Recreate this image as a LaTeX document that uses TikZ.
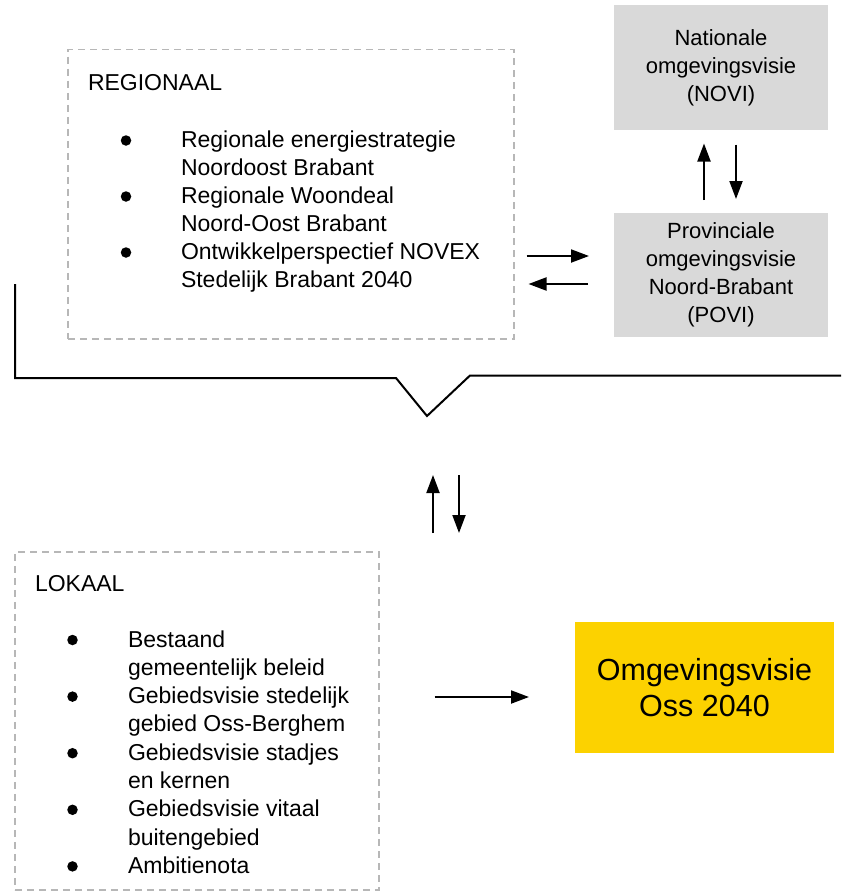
\documentclass[tikz,border=0pt]{standalone}
\usepackage{fontspec}
\setmainfont{Liberation Sans}
\usetikzlibrary{arrows.meta}
\definecolor{boxgrey}{RGB}{217,217,217}
\definecolor{dashgrey}{RGB}{183,183,183}
\definecolor{ossyellow}{RGB}{252,210,0}

\begin{document}
\begin{tikzpicture}[x=1pt,y=-1pt,>={Triangle[length=18pt,width=13pt]},
 line width=2pt,
 grey box/.style={fill=boxgrey,minimum width=214pt,minimum height=124pt,
   align=center,font=\fontsize{22}{28}\selectfont},
 dash box/.style={draw=dashgrey,line width=1.5pt,dash pattern=on 7pt off 5pt,anchor=north west},
 item/.style={anchor=base west,inner sep=0pt,font=\fontsize{23}{28}\selectfont},
 dot/.style={circle,fill,inner sep=0pt,minimum size=10.5pt}]
\useasboundingbox (0,0) rectangle (841,891);

% regionaal
\node[dash box,minimum width=446pt,minimum height=289pt](regio) at (67,49){};
\node[item](regio title) at (87,90){REGIONAAL};
\foreach \t [count=\i] in {Regionale energiestrategie, Noordoost Brabant,
   Regionale Woondeal, Noord-Oost Brabant, Ontwikkelperspectief NOVEX,
   Stedelijk Brabant 2040}{
   \node[item](r\i) at (180,{147+28*(\i-1)}){\t};}
\foreach \i in {1,3,5}{
   \node[dot](rb\i) at (126,{140.5+28*(\i-1)}){};}

% lokaal
\node[dash box,minimum width=364pt,minimum height=338pt](lokaal) at (14,551){};
\node[item](lokaal title) at (34,591){LOKAAL};
\foreach \t [count=\i] in {Bestaand, gemeentelijk beleid,
   Gebiedsvisie stedelijk, gebied Oss-Berghem, Gebiedsvisie stadjes,
   en kernen, Gebiedsvisie vitaal, buitengebied, Ambitienota}{
   \node[item](l\i) at (127,{647+28.3*(\i-1)}){\t};}
\foreach \i in {1,3,5,7,9}{
   \node[dot](lb\i) at (72.5,{640+28.3*(\i-1)}){};}

% rijk en provincie
\node[grey box](novi) at (721,67.5){Nationale\\omgevingsvisie\\(NOVI)};
\node[grey box](povi) at (721,275){Provinciale\\omgevingsvisie\\Noord-Brabant\\(POVI)};
\node[fill=ossyellow,minimum width=259pt,minimum height=131pt,align=center,
   font=\fontsize{30.5}{36}\selectfont](oss) at (704.5,687.5){Omgevingsvisie\\Oss 2040};

% callout
\coordinate (tip) at (427,416);
\draw (15,284) -- (15,378) -- (396,378) -- (tip) -- (470,375.5) -- (841,375.5);
\coordinate (link top) at (446,475);
\coordinate (link bot) at (446,533);

\draw[->,shorten <=12pt,shorten >=24pt] (regio.east |- 0,256) -- (povi.west |- 0,256);
\draw[->,shorten <=25pt,shorten >=14pt] (povi.west |- 0,284) -- (regio.east |- 0,284);
\draw[->,shorten <=12pt,shorten >=13pt] (povi.north -| 704,0) -- (novi.south -| 704,0);
\draw[->,shorten <=14pt,shorten >=13pt] (novi.south -| 736,0) -- (povi.north -| 736,0);
\draw[->] ([xshift=-13pt]link bot) -- ([xshift=-13pt]link top);
\draw[->] ([xshift=13pt]link top) -- ([xshift=13pt]link bot);
\draw[->,shorten <=55pt,shorten >=45pt] (lokaal.east |- 0,697) -- (oss.west |- 0,697);
\end{tikzpicture}
\end{document}
